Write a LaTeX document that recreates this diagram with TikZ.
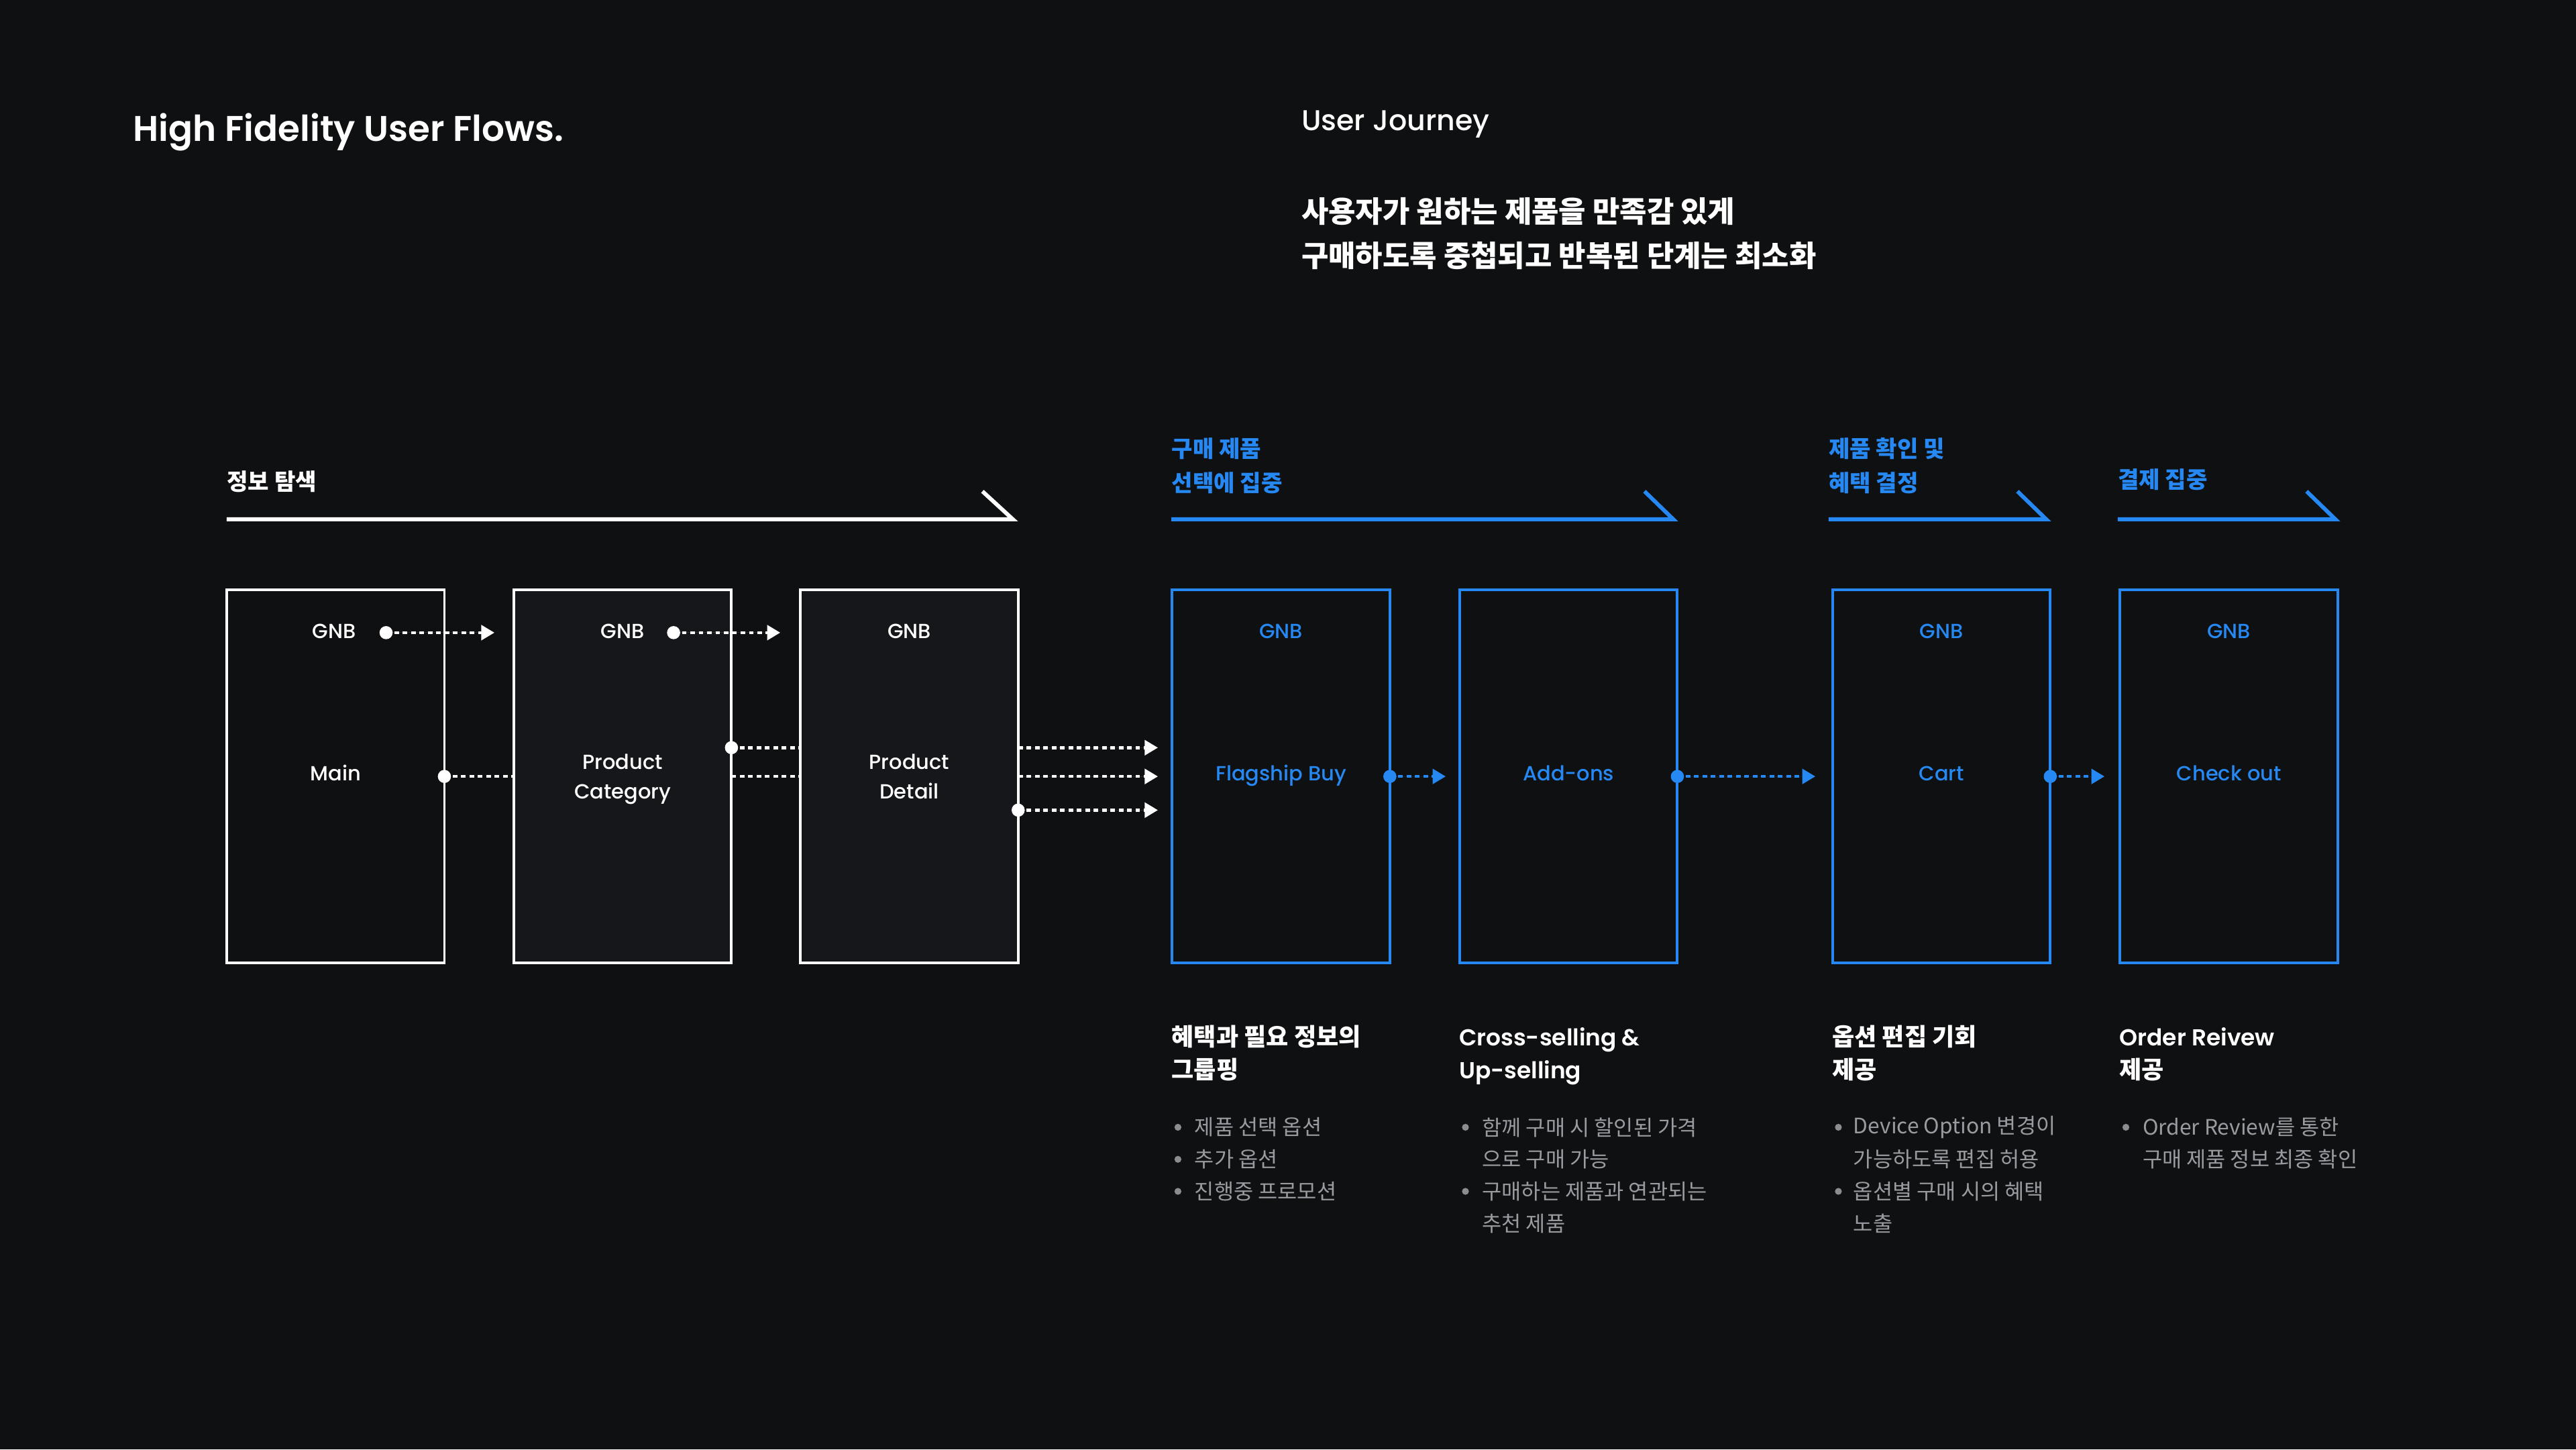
\documentclass[tikz,border=0pt]{standalone}
\usepackage{fontspec}
\usetikzlibrary{arrows.meta}
\setmainfont{Noto Sans CJK KR}
\newfontfamily\kr{Noto Sans CJK KR}
\newfontfamily\popr{Poppins}
\newfontfamily\popm{Poppins Medium}
\newfontfamily\popsb{Poppins SemiBold}
\definecolor{bg}{HTML}{0F1012}
\definecolor{boxfill}{HTML}{16171A}
\definecolor{jblue}{HTML}{2688F2}
\definecolor{gtext}{HTML}{9A9BA0}
\definecolor{gdot}{HTML}{8C8D92}
\begin{document}
\begin{tikzpicture}[x=1bp,y=-1bp,
  screen/.style={draw=white, line width=1.6bp, minimum width=132.5bp, minimum height=227bp, inner sep=0pt, outer sep=0pt},
  wscreen/.style={screen, fill=boxfill},
  bscreen/.style={screen, draw=jblue, fill=bg},
  flow/.style={draw=white, line width=1.8bp, dash pattern=on 2.8bp off 2.3bp},
  flowa/.style={flow, -{Triangle[length=8bp,width=9bp]}},
  bflowa/.style={flowa, draw=jblue, fill=jblue},
  wdot/.style={fill=white},
  bdot/.style={fill=jblue},
  boxlbl/.style={font=\popm\fontsize{12.5}{15}\selectfont, text=white, anchor=base, inner sep=0pt},
  bboxlbl/.style={boxlbl, text=jblue},
  phase/.style={font=\kr\bfseries\fontsize{14}{17}\selectfont, anchor=west, inner sep=0pt},
  phaseline/.style={line width=2.4bp, line cap=butt, line join=miter},
  head/.style={font=\kr\bfseries\fontsize{14.8}{18}\selectfont, text=white, anchor=west, inner sep=0pt},
  lhead/.style={font=\popsb\fontsize{14.1}{17}\selectfont, text=white, anchor=base west, inner sep=0pt},
  bul/.style={font=\kr\fontsize{13}{16}\selectfont, text=gtext, anchor=west, inner sep=0pt},
]
\useasboundingbox (0,0) rectangle (1568,882);
\fill[bg] (0,0) rectangle (1568,882);

% header
\node[font=\popsb\fontsize{21.8}{26}\selectfont, text=white, anchor=base west, inner sep=0pt] (title) at (81,86) {High Fidelity User Flows.};
\node[font=\popm\fontsize{17.5}{20}\selectfont, text=white, anchor=base west, inner sep=0pt] (uj) at (792,79.5) {User Journey};
\node[font=\kr\bfseries\fontsize{18}{21}\selectfont, text=white, anchor=west, inner sep=0pt] (sub1) at (792,128.5) {사용자가 원하는 제품을 만족감 있게};
\node[font=\kr\bfseries\fontsize{18}{21}\selectfont, text=white, anchor=west, inner sep=0pt] (sub2) at (792,155.5) {구매하도록 중첩되고 반복된 단계는 최소화};

% phases
\node[phase, text=white] (p1) at (138,293) {정보 탐색};
\draw[phaseline, white] (138,316) coordinate (p1a) -- (616.5,316) coordinate (p1b) -- (598,299) coordinate (p1c);
\node[phase, text=jblue] (p2a) at (713,273) {구매 제품};
\node[phase, text=jblue] (p2b) at (713,294) {선택에 집중};
\draw[phaseline, jblue] (713,316) coordinate (p2x) -- (1018.5,316) coordinate (p2y) -- (1001,299) coordinate (p2z);
\node[phase, text=jblue] (p3a) at (1113,273) {제품 확인 및};
\node[phase, text=jblue] (p3b) at (1113,294) {혜택 결정};
\draw[phaseline, jblue] (1113,316) coordinate (p3x) -- (1245.5,316) coordinate (p3y) -- (1228,299) coordinate (p3z);
\node[phase, text=jblue] (p4a) at (1289,292) {결제 집중};
\draw[phaseline, jblue] (1289,316) coordinate (p4x) -- (1421.5,316) coordinate (p4y) -- (1404,299) coordinate (p4z);

% screens
\node[screen, fill=bg] (main) at (204.25,472.5) {};
\node[wscreen] (cat) at (379,472.5) {};
\node[wscreen] (det) at (553.5,472.5) {};
\node[bscreen] (flag) at (779.75,472.5) {};
\node[bscreen] (add) at (954.75,472.5) {};
\node[bscreen] (cart) at (1181.75,472.5) {};
\node[bscreen] (chk) at (1356.75,472.5) {};

% labels in screens
\node[boxlbl] (mg) at (203.5,388.5) {GNB};
\node[boxlbl] (ml) at (204.25,475) {Main};
\node[boxlbl] (cg) at (379,388.5) {GNB};
\node[boxlbl] (cl1) at (379,468) {Product};
\node[boxlbl] (cl2) at (379,486) {Category};
\node[boxlbl] (dg) at (553.5,388.5) {GNB};
\node[boxlbl] (dl1) at (553.5,468) {Product};
\node[boxlbl] (dl2) at (553.5,486) {Detail};
\node[bboxlbl] (fg) at (779.75,388.5) {GNB};
\node[bboxlbl] (fl) at (779.75,475) {Flagship Buy};
\node[bboxlbl] (al) at (954.75,475) {Add-ons};
\node[bboxlbl] (crg) at (1181.75,388.5) {GNB};
\node[bboxlbl] (crl) at (1181.75,475) {Cart};
\node[bboxlbl] (chg) at (1356.75,388.5) {GNB};
\node[bboxlbl] (chl) at (1356.75,475) {Check out};

% connectors (white)
\coordinate (mgd) at (235,385);
\coordinate (cgd) at (410,385);
\draw[flowa, fill=white, shorten >=11.8bp] (mgd) -- (mgd -| cat.west);
\fill[wdot] (mgd) circle (4bp);
\draw[flowa, fill=white, shorten >=12.3bp] (cgd) -- (cgd -| det.west);
\fill[wdot] (cgd) circle (4bp);

\coordinate (cE1) at (cat.east |- 0,455);
\coordinate (dE3) at (det.east |- 0,493);
\coordinate (flagIn1) at (flag.west |- 0,455);
\coordinate (flagIn3) at (flag.west |- 0,493);
\draw[flow] (main.east) -- (cat.west);
\draw[flow] (cat.east) -- (det.west);
\draw[flowa, fill=white, shorten >=8.7bp] (det.east) -- (flag.west);
\fill[wdot] (main.east) circle (4bp);
\draw[flow] (cE1) -- (cE1 -| det.west);
\draw[flowa, fill=white, shorten >=8.7bp] (cE1 -| det.east) -- (flagIn1);
\fill[wdot] (cE1) circle (4bp);
\draw[flowa, fill=white, shorten >=8.7bp] (dE3) -- (flagIn3);
\fill[wdot] (dE3) circle (4bp);

% connectors (blue)
\draw[bflowa, shorten >=8.5bp] (flag.east) -- (add.west);
\fill[bdot] (flag.east) circle (4bp);
\draw[bflowa, shorten >=10.5bp] (add.east) -- (cart.west);
\fill[bdot] (add.east) circle (4bp);
\draw[bflowa, shorten >=9.5bp] (cart.east) -- (chk.west);
\fill[bdot] (cart.east) circle (4bp);

% descriptions
\node[head] (h1a) at (713,631) {혜택과 필요 정보의};
\node[head] (h1b) at (713,651) {그룹핑};
\fill[gdot] (717,686) circle (2.1bp);
\node[bul] (b1a) at (727,686) {제품 선택 옵션};
\fill[gdot] (717,705.5) circle (2.1bp);
\node[bul] (b1b) at (727,705.5) {추가 옵션};
\fill[gdot] (717,725) circle (2.1bp);
\node[bul] (b1c) at (727,725) {진행중 프로모션};

\node[lhead] (h2a) at (888,636.5) {Cross-selling \&};
\node[lhead] (h2b) at (888,656.5) {Up-selling};
\fill[gdot] (892,686) circle (2.1bp);
\node[bul] (b2a) at (902,686) {함께 구매 시 할인된 가격};
\node[bul] (b2b) at (902,705.5) {으로 구매 가능};
\fill[gdot] (892,725) circle (2.1bp);
\node[bul] (b2c) at (902,725) {구매하는 제품과 연관되는};
\node[bul] (b2d) at (902,744.5) {추천 제품};

\node[head] (h3a) at (1115,631) {옵션 편집 기회};
\node[head] (h3b) at (1115,651) {제공};
\fill[gdot] (1119,686) circle (2.1bp);
\node[bul] (b3a) at (1128,686) {Device Option 변경이};
\node[bul] (b3b) at (1128,705.5) {가능하도록 편집 허용};
\fill[gdot] (1119,725) circle (2.1bp);
\node[bul] (b3c) at (1128,725) {옵션별 구매 시의 혜택};
\node[bul] (b3d) at (1128,744.5) {노출};

\node[lhead] (h4a) at (1290,636.5) {Order Reivew};
\node[head] (h4b) at (1290,651) {제공};
\fill[gdot] (1294,686) circle (2.1bp);
\node[bul] (b4a) at (1304,686) {Order Review를 통한};
\node[bul] (b4b) at (1304,705.5) {구매 제품 정보 최종 확인};
\end{tikzpicture}
\end{document}
